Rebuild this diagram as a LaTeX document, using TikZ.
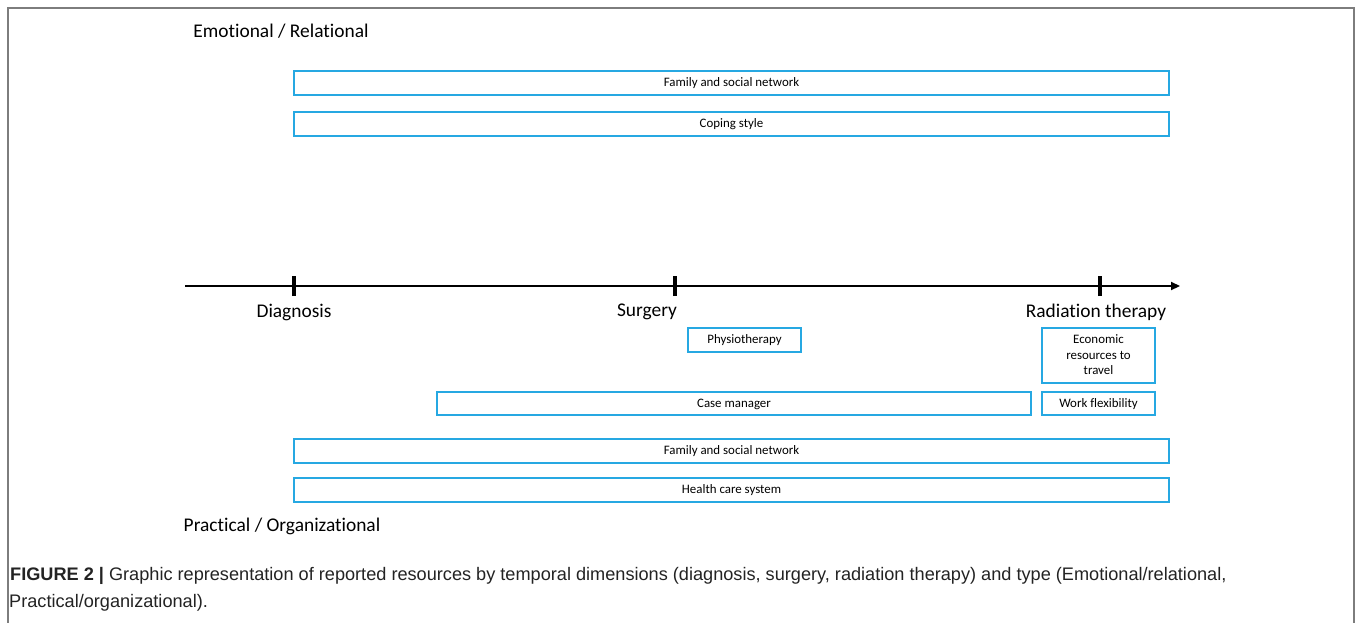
\documentclass[tikz,border=0pt]{standalone}
\usepackage{fontspec}
\setmainfont{Carlito}[RawFeature=-liga]
\newfontfamily\capfont{Liberation Sans}
\usetikzlibrary{arrows.meta}
\definecolor{boxblue}{RGB}{38,168,226}
\definecolor{framegray}{RGB}{125,125,125}
\definecolor{captxt}{RGB}{35,35,35}
\tikzset{
  res/.style={draw=boxblue, line width=1.8pt, inner sep=0pt, font=\fontsize{12.9}{15.5}\selectfont, align=center, text depth=1pt},
  lab/.style={font=\fontsize{19.4}{22}\selectfont, inner sep=0pt},
  tickmark/.style={line width=4pt},
  axisline/.style={line width=2.2pt, -{Triangle[length=9pt,width=8pt]}},
  captext/.style={font=\capfont\fontsize{18.15}{21}\selectfont, text=captxt, inner sep=0pt, anchor=base west}
}
\begin{document}
\begin{tikzpicture}[x=1pt,y=-1pt]
\useasboundingbox (0,0) rectangle (1358,623);
\draw[framegray, line width=1.3pt] (8,623) -- (8,8) -- (1354,8) -- (1354,623);

\node[lab] (emo) at (281,31) {Emotional / Relational};
\node[res, minimum width=875pt, minimum height=24pt] (fsn1) at (731.5,83) {Family and social network};
\node[res, minimum width=875pt, minimum height=24pt] (cope) at (731.5,124) {Coping style};

\coordinate (tstart) at (185,286);
\coordinate (tend) at (1180,286);
\draw[axisline] (tstart) -- (tend);
\coordinate (tdia) at (294,286);
\coordinate (tsur) at (675,286);
\coordinate (trad) at (1100,286);
\draw[tickmark] ([yshift=-10pt]tdia) -- ([yshift=10pt]tdia);
\draw[tickmark] ([yshift=-10pt]tsur) -- ([yshift=10pt]tsur);
\draw[tickmark] ([yshift=-10pt]trad) -- ([yshift=10pt]trad);
\node[lab] (dia) at (294,312) {Diagnosis};
\node[lab] (sur) at (647,312) {Surgery};
\node[lab] (rad) at (1096,312) {Radiation therapy};

\node[res, minimum width=113pt, minimum height=24pt] (phys) at (744.5,340) {Physiotherapy};
\node[res, minimum width=113pt, minimum height=55pt] (econ) at (1098.5,355.5) {Economic\\resources to\\travel};
\node[res, minimum width=113pt, minimum height=23pt] (work) at (1098.5,403.5) {Work flexibility};
\node[res, minimum width=594pt, minimum height=23pt] (case) at (734,403.5) {Case manager};
\node[res, minimum width=875pt, minimum height=24pt] (fsn2) at (731.5,451) {Family and social network};
\node[res, minimum width=875pt, minimum height=24pt] (hcs) at (731.5,490) {Health care system};
\node[lab] (pra) at (282,526) {Practical / Organizational};

\node[captext] (cap1) at (10,580) {\textbf{FIGURE 2 |} Graphic representation of reported resources by temporal dimensions (diagnosis, surgery, radiation therapy) and type (Emotional/relational,};
\node[captext] (cap2) at (9,607) {Practical/organizational).};
\end{tikzpicture}
\end{document}
